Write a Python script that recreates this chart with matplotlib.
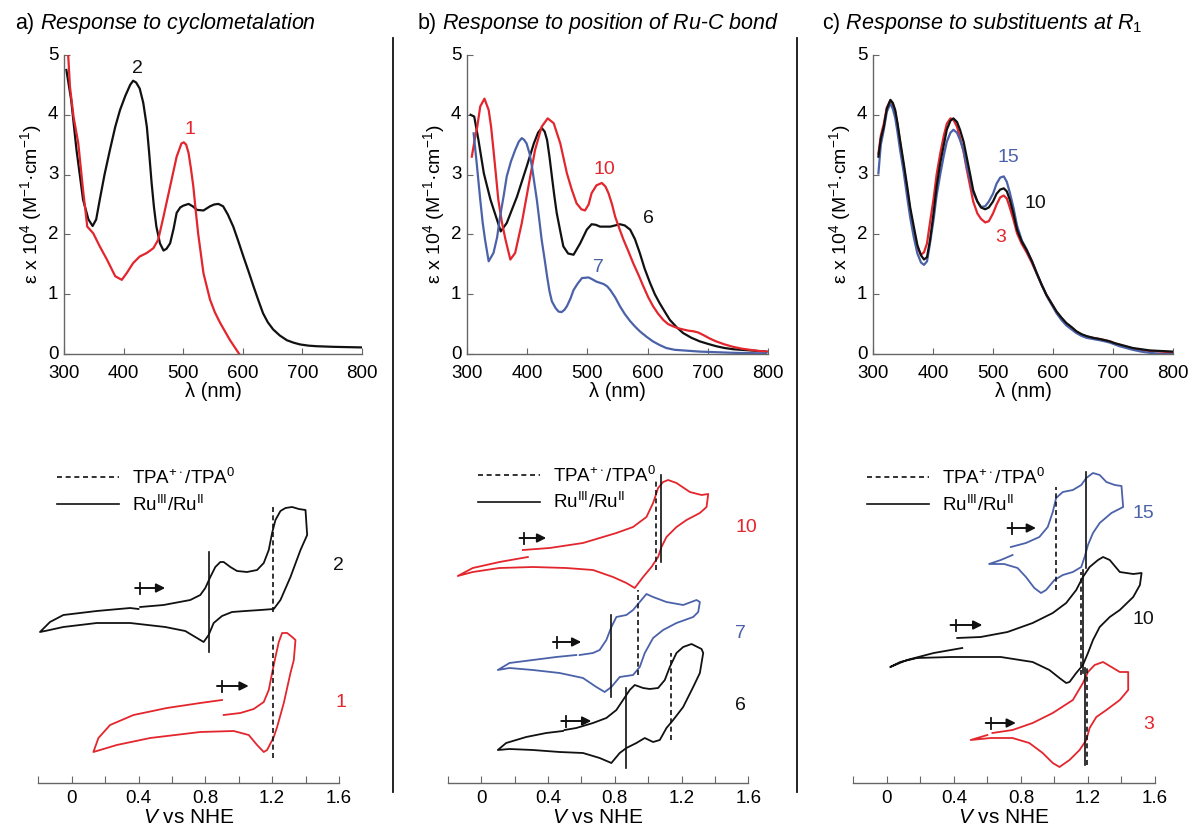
import matplotlib
matplotlib.use('Agg')
import matplotlib.pyplot as plt
from matplotlib.lines import Line2D
import numpy as np

plt.rcParams['font.family'] = ['Liberation Sans', 'DejaVu Sans']
plt.rcParams['mathtext.fontset'] = 'custom'
plt.rcParams['mathtext.rm'] = 'Liberation Sans'
plt.rcParams['mathtext.it'] = 'Liberation Sans:italic'
plt.rcParams['mathtext.bf'] = 'Liberation Sans:bold'

RED = '#e3262d'
BLUE = '#4b62a9'
BLACK = '#111111'
GREY = '#666666'

# ---------------- absorption spectra (eps in 10^4 M-1 cm-1) ----------------
# a) compound 2 (black) and 1 (red)
wl_a2 = [304, 312, 321, 332, 341, 348, 354, 360, 368, 377, 386, 394, 403, 411, 416, 421, 427, 433,
         439, 443, 447, 451, 455, 461, 467, 472, 478, 484, 489, 495, 500, 509, 516, 523, 534, 545,
         552, 559, 567, 575, 584, 592, 601, 610, 618, 626, 634, 642, 651, 662, 674, 685, 696, 710,
         724, 738, 752, 775, 799]
eps_a2 = [4.75, 4.25, 3.41, 2.58, 2.25, 2.14, 2.25, 2.58, 3.0, 3.41, 3.8, 4.08, 4.32, 4.5, 4.57, 4.54,
          4.44, 4.2, 3.8, 3.35, 2.86, 2.45, 2.13, 1.85, 1.73, 1.76, 1.85, 2.1, 2.36, 2.45, 2.48, 2.51,
          2.47, 2.41, 2.4, 2.47, 2.5, 2.51, 2.47, 2.33, 2.13, 1.9, 1.63, 1.37, 1.13, 0.9, 0.68, 0.53,
          0.41, 0.31, 0.23, 0.19, 0.16, 0.14, 0.13, 0.125, 0.12, 0.115, 0.11]
wl_a1 = [307, 310, 316, 324, 332, 339, 349, 360, 372, 386, 397, 405, 416, 427, 439, 450, 458, 467,
         478, 489, 497, 501, 505, 509, 513, 517, 521, 525, 534, 545, 553, 562, 570, 578, 586, 594]
eps_a1 = [5.0, 4.47, 3.97, 3.52, 2.74, 2.13, 2.02, 1.8, 1.58, 1.3, 1.24, 1.35, 1.52, 1.63, 1.69, 1.77,
          1.91, 2.3, 2.8, 3.3, 3.52, 3.54, 3.5, 3.36, 3.1, 2.8, 2.4, 2.02, 1.35, 0.91, 0.7, 0.52,
          0.38, 0.24, 0.12, 0.0]

# b) compound 6 (black), 10 (red), 7 (blue)
wl_b6 = [306, 312, 319, 328, 339, 350, 356, 366, 383, 399, 411, 418, 424, 429, 433, 437, 441, 445,
         449, 455, 460, 468, 477, 488, 499, 507, 514, 521, 538, 546, 554, 562, 571, 579, 587, 595,
         604, 612, 620, 629, 637, 648, 659, 673, 687, 700, 714, 728, 742, 770, 797]
eps_b6 = [4.0, 3.97, 3.58, 3.02, 2.58, 2.24, 2.05, 2.19, 2.63, 3.13, 3.52, 3.7, 3.78, 3.72, 3.58, 3.3,
          2.97, 2.65, 2.36, 2.05, 1.8, 1.68, 1.66, 1.85, 2.08, 2.17, 2.16, 2.13, 2.13, 2.15, 2.17,
          2.15, 2.08, 1.92, 1.69, 1.43, 1.19, 1.0, 0.85, 0.7, 0.57, 0.45, 0.35, 0.27, 0.21, 0.17,
          0.13, 0.1, 0.08, 0.06, 0.04]
wl_b10 = [308, 313, 317, 322, 329, 336, 340, 344, 348, 352, 358, 364, 372, 380, 391, 402, 413, 424,
          434, 444, 455, 466, 474, 482, 490, 496, 502, 507, 515, 524, 530, 535, 541, 546, 553, 560,
          568, 576, 585, 593, 601, 609, 617, 626, 634, 643, 651, 659, 668, 676, 684, 692, 703, 714,
          728, 742, 756, 770, 785, 800]
eps_b10 = [3.3, 3.6, 3.8, 4.14, 4.27, 4.08, 3.8, 3.41, 3.0, 2.58, 2.2, 1.91, 1.58, 1.69, 2.19, 2.8,
           3.41, 3.8, 3.94, 3.86, 3.52, 3.02, 2.75, 2.52, 2.42, 2.4, 2.5, 2.69, 2.82, 2.86, 2.8, 2.69,
           2.5, 2.3, 2.1, 1.91, 1.72, 1.52, 1.32, 1.13, 0.95, 0.8, 0.68, 0.57, 0.5, 0.46, 0.43, 0.41,
           0.39, 0.38, 0.36, 0.32, 0.26, 0.21, 0.16, 0.12, 0.09, 0.07, 0.05, 0.04]
wl_b7 = [311, 316, 322, 326, 330, 336, 344, 350, 355, 361, 366, 373, 380, 386, 391, 395, 399, 404,
         408, 412, 416, 420, 424, 429, 433, 437, 441, 447, 452, 457, 462, 466, 472, 477, 484, 491,
         502, 508, 515, 527, 533, 538, 546, 554, 562, 571, 579, 587, 598, 609, 620, 631, 645, 659,
         687, 742, 797]
eps_b7 = [3.69, 3.2, 2.58, 2.2, 1.91, 1.55, 1.69, 1.95, 2.3, 2.65, 2.97, 3.22, 3.41, 3.55, 3.61, 3.58,
          3.52, 3.35, 3.13, 2.85, 2.58, 2.25, 1.91, 1.58, 1.3, 1.05, 0.88, 0.77, 0.71, 0.7, 0.74, 0.8,
          0.93, 1.07, 1.18, 1.27, 1.28, 1.25, 1.21, 1.17, 1.13, 1.07, 0.95, 0.8, 0.67, 0.55, 0.46,
          0.38, 0.29, 0.21, 0.15, 0.1, 0.07, 0.06, 0.04, 0.02, 0.01]

# c) compound 10 (black), 3 (red), 15 (blue)
wl_c = [309, 313, 318, 323, 329, 333, 337, 341, 345, 351, 357, 362, 368, 374, 380, 385, 390, 395,
        401, 406, 412, 418, 423, 429, 434, 440, 445, 451, 456, 462, 467, 474, 480, 487, 493, 500,
        506, 512, 518, 523, 528, 534, 540, 548, 556, 565, 573, 581, 589, 598, 606, 614, 622, 631,
        639, 648, 656, 667, 678, 687, 695, 703, 711, 722, 733, 747, 761, 780, 800]
eps_c10 = [3.3, 3.6, 3.8, 4.1, 4.25, 4.2, 4.08, 3.85, 3.58, 3.2, 2.8, 2.45, 2.13, 1.82, 1.65, 1.58,
           1.62, 1.9, 2.36, 2.8, 3.19, 3.5, 3.75, 3.9, 3.94, 3.88, 3.75, 3.55, 3.3, 3.0, 2.74, 2.55,
           2.45, 2.42, 2.45, 2.55, 2.68, 2.75, 2.77, 2.72, 2.58, 2.35, 2.08, 1.88, 1.74, 1.55, 1.35,
           1.16, 0.99, 0.84, 0.71, 0.61, 0.52, 0.45, 0.38, 0.33, 0.3, 0.27, 0.25, 0.23, 0.21, 0.18,
           0.16, 0.13, 0.1, 0.08, 0.06, 0.05, 0.04]
eps_c3 = [3.35, 3.65, 3.85, 4.12, 4.24, 4.18, 4.05, 3.82, 3.55, 3.15, 2.75, 2.4, 2.05, 1.78, 1.66, 1.7,
          1.85, 2.2, 2.6, 3.0, 3.35, 3.65, 3.85, 3.94, 3.92, 3.8, 3.62, 3.38, 3.1, 2.8, 2.55, 2.35,
          2.26, 2.2, 2.22, 2.35, 2.5, 2.62, 2.65, 2.6, 2.45, 2.25, 2.02, 1.84, 1.7, 1.52, 1.34, 1.16,
          0.99, 0.84, 0.7, 0.6, 0.51, 0.44, 0.37, 0.32, 0.29, 0.27, 0.25, 0.23, 0.21, 0.18, 0.15,
          0.12, 0.09, 0.07, 0.05, 0.04, 0.03]
eps_c15 = [3.02, 3.5, 3.75, 4.05, 4.19, 4.1, 3.95, 3.7, 3.42, 3.05, 2.62, 2.28, 1.95, 1.68, 1.53, 1.49,
           1.55, 1.85, 2.25, 2.65, 3.0, 3.32, 3.55, 3.7, 3.75, 3.7, 3.58, 3.4, 3.15, 2.92, 2.7, 2.55,
           2.46, 2.47, 2.55, 2.68, 2.85, 2.95, 2.97, 2.88, 2.7, 2.45, 2.15, 1.9, 1.75, 1.55, 1.35,
           1.16, 0.98, 0.82, 0.68, 0.57, 0.48, 0.41, 0.35, 0.3, 0.27, 0.25, 0.23, 0.21, 0.19, 0.16,
           0.13, 0.1, 0.07, 0.04, 0.02, 0.0, 0.0]

# ---------------- cyclic voltammograms (V vs NHE, offset current a.u.) ----------------
v_cv2 = [0.41, 0.55, 0.71, 0.77, 0.8, 0.83, 0.86, 0.89, 0.91, 0.95, 0.99, 1.05, 1.11, 1.15, 1.18, 1.2,
         1.22, 1.25, 1.28, 1.32, 1.36, 1.4, 1.41, 1.37, 1.31, 1.25, 1.21, 1.13, 1.04, 0.96, 0.9, 0.85,
         0.82, 0.79, 0.74, 0.68, 0.56, 0.35, 0.15, -0.05, -0.16, -0.19, -0.13, -0.05, 0.15, 0.35, 0.4]
i_cv2 = [1.76, 1.78, 1.83, 1.88, 1.95, 2.06, 2.16, 2.21, 2.21, 2.16, 2.12, 2.11, 2.13, 2.2, 2.33, 2.5,
         2.63, 2.72, 2.75, 2.76, 2.74, 2.73, 2.48, 2.33, 2.06, 1.83, 1.74, 1.73, 1.72, 1.71, 1.67, 1.6,
         1.48, 1.41, 1.46, 1.52, 1.56, 1.6, 1.6, 1.56, 1.52, 1.51, 1.61, 1.68, 1.72, 1.75, 1.74]
v_cv1 = [0.91, 1.01, 1.09, 1.15, 1.18, 1.2, 1.22, 1.24, 1.26, 1.29, 1.32, 1.34, 1.33, 1.31, 1.27, 1.23,
         1.21, 1.17, 1.15, 1.11, 1.06, 0.97, 0.77, 0.47, 0.27, 0.13, 0.16, 0.23, 0.37, 0.57, 0.77, 0.9]
i_cv1 = [0.68, 0.7, 0.74, 0.81, 0.93, 1.1, 1.26, 1.41, 1.5, 1.5, 1.46, 1.43, 1.23, 1.1, 0.8, 0.56,
         0.46, 0.33, 0.31, 0.38, 0.48, 0.52, 0.51, 0.45, 0.38, 0.31, 0.45, 0.58, 0.68, 0.75, 0.8, 0.83]

v_cv10b = [0.25, 0.41, 0.61, 0.81, 0.91, 0.99, 1.03, 1.06, 1.09, 1.12, 1.17, 1.25, 1.32, 1.36, 1.35,
           1.31, 1.23, 1.17, 1.11, 1.08, 1.06, 1.02, 0.97, 0.92, 0.87, 0.79, 0.67, 0.51, 0.31, 0.11,
           -0.05, -0.14, -0.05, 0.11, 0.28]
i_cv10b = [2.33, 2.35, 2.4, 2.5, 2.56, 2.66, 2.8, 2.95, 3.01, 3.03, 3.0, 2.91, 2.88, 2.89, 2.76, 2.7,
           2.63, 2.56, 2.46, 2.36, 2.26, 2.16, 2.06, 1.95, 2.0, 2.06, 2.13, 2.15, 2.16, 2.15, 2.11,
           2.07, 2.15, 2.21, 2.26]
v_cv7 = [0.59, 0.67, 0.71, 0.75, 0.78, 0.81, 0.87, 0.91, 0.95, 0.99, 1.03, 1.11, 1.21, 1.29, 1.31, 1.3,
         1.27, 1.17, 1.09, 1.03, 0.98, 0.95, 0.91, 0.83, 0.78, 0.74, 0.69, 0.61, 0.47, 0.31, 0.17, 0.1,
         0.17, 0.31, 0.45, 0.57]
i_cv7 = [1.28, 1.3, 1.33, 1.43, 1.56, 1.66, 1.68, 1.73, 1.81, 1.89, 1.86, 1.81, 1.78, 1.83, 1.81, 1.71,
         1.66, 1.6, 1.53, 1.45, 1.3, 1.16, 1.08, 1.06, 0.96, 0.91, 0.96, 1.05, 1.1, 1.13, 1.15, 1.13,
         1.2, 1.23, 1.26, 1.28]
v_cv6 = [0.5, 0.57, 0.67, 0.75, 0.81, 0.85, 0.89, 0.92, 0.97, 1.01, 1.06, 1.1, 1.13, 1.17, 1.21, 1.26,
         1.32, 1.33, 1.31, 1.27, 1.21, 1.15, 1.11, 1.07, 1.03, 0.98, 0.93, 0.87, 0.83, 0.78, 0.71, 0.61,
         0.47, 0.31, 0.17, 0.1, 0.15, 0.27, 0.39, 0.49]
i_cv6 = [0.53, 0.55, 0.6, 0.65, 0.73, 0.83, 0.93, 0.98, 0.95, 0.94, 0.95, 1.03, 1.16, 1.3, 1.36, 1.39,
         1.34, 1.3, 1.1, 0.96, 0.76, 0.63, 0.55, 0.43, 0.41, 0.45, 0.4, 0.35, 0.3, 0.2, 0.25, 0.3,
         0.31, 0.33, 0.34, 0.33, 0.4, 0.46, 0.5, 0.52]

v_cv15 = [0.74, 0.83, 0.91, 0.96, 0.99, 1.01, 1.05, 1.11, 1.16, 1.19, 1.23, 1.27, 1.31, 1.36, 1.4, 1.41,
          1.34, 1.27, 1.23, 1.2, 1.18, 1.16, 1.11, 1.05, 1.0, 0.95, 0.92, 0.88, 0.83, 0.78, 0.7, 0.61,
          0.68, 0.75]
i_cv15 = [2.36, 2.4, 2.46, 2.56, 2.71, 2.85, 2.91, 2.93, 2.98, 3.05, 3.1, 3.08, 3.01, 2.98, 2.97, 2.76,
          2.7, 2.6, 2.5, 2.38, 2.26, 2.16, 2.11, 2.08, 2.03, 1.93, 1.9, 1.95, 2.06, 2.15, 2.19, 2.19,
          2.23, 2.28]
v_cv10c = [0.42, 0.56, 0.72, 0.87, 0.99, 1.07, 1.13, 1.17, 1.21, 1.26, 1.29, 1.33, 1.39, 1.47, 1.52,
           1.51, 1.47, 1.39, 1.33, 1.27, 1.23, 1.2, 1.17, 1.13, 1.09, 1.07, 1.03, 0.97, 0.87, 0.68,
           0.38, 0.18, 0.08, 0.02, 0.12, 0.28, 0.45]
i_cv10c = [1.45, 1.46, 1.51, 1.6, 1.7, 1.8, 1.93, 2.06, 2.16, 2.23, 2.26, 2.23, 2.11, 2.09, 2.1, 1.98,
           1.86, 1.73, 1.66, 1.56, 1.43, 1.3, 1.18, 1.1, 1.01, 1.0, 1.05, 1.13, 1.21, 1.26, 1.26,
           1.25, 1.21, 1.16, 1.23, 1.3, 1.35]
v_cv3 = [0.63, 0.75, 0.87, 0.99, 1.11, 1.17, 1.2, 1.24, 1.29, 1.34, 1.39, 1.44, 1.44, 1.39, 1.31, 1.25,
         1.21, 1.19, 1.15, 1.09, 1.03, 0.99, 0.93, 0.85, 0.75, 0.62, 0.5, 0.6]
i_cv3 = [0.5, 0.53, 0.6, 0.7, 0.83, 1.0, 1.11, 1.18, 1.21, 1.16, 1.11, 1.11, 0.93, 0.83, 0.73, 0.66,
         0.55, 0.43, 0.33, 0.23, 0.16, 0.2, 0.3, 0.4, 0.45, 0.45, 0.43, 0.48]

# redox potentials: (V, current from, current to)
tpa_a = [(1.205, 1.71, 2.76), (1.205, 0.25, 1.5)]
ru_a = [(0.822, 1.31, 2.31)]
tpa_b = [(1.05, 2.13, 3.03), (0.94, 1.08, 1.93), (1.135, 0.43, 1.3)]
ru_b = [(1.08, 2.21, 3.08), (0.776, 0.86, 1.68), (0.866, 0.15, 0.95)]
tpa_c = [(1.01, 1.93, 2.96), (1.16, 1.08, 2.11), (1.196, 0.18, 1.15)]
ru_c = [(1.19, 2.15, 3.11), (1.17, 1.1, 2.13), (1.185, 0.18, 1.15)]

W, H = 1197, 830
fig = plt.figure(figsize=(W / 100, H / 100), dpi=100)

TICK_FS = 13.5
LABEL_FS = 14.5
NUM_FS = 14


def rect(l, t, r, b):
    return [l / W, 1 - b / H, (r - l) / W, (b - t) / H]


def style_top(ax):
    ax.set_xlim(300, 800)
    ax.set_ylim(0, 5)
    for s in ['top', 'right']:
        ax.spines[s].set_visible(False)
    for s in ['left', 'bottom']:
        ax.spines[s].set_color(GREY)
        ax.spines[s].set_linewidth(1.0)
    ax.set_xticks(range(300, 801, 100))
    ax.set_yticks(range(0, 6))
    ax.tick_params(direction='in', length=4, width=0.8, color=GREY, labelsize=TICK_FS)
    ax.tick_params(axis='x', pad=8)
    ax.tick_params(axis='y', pad=4)
    for lab in ax.get_yticklabels():
        lab.set_verticalalignment('center')
    ax.set_xlabel('λ (nm)', fontsize=LABEL_FS, labelpad=0)
    ax.set_ylabel('ε x 10$^4$ (M$^{-1}$·cm$^{-1}$)', fontsize=14, labelpad=3)
    ax.patch.set_alpha(0)


def style_bottom(ax, legend_anchor):
    ax.set_xlim(-0.2, 1.6)
    ax.set_ylim(0, 3.3)
    for s in ['top', 'right', 'left']:
        ax.spines[s].set_visible(False)
    ax.spines['bottom'].set_color(GREY)
    ax.spines['bottom'].set_linewidth(1.0)
    ax.set_yticks([])
    ax.set_xticks(np.round(np.arange(-0.2, 1.61, 0.2), 1))
    ax.set_xticklabels(['', '0', '', '0.4', '', '0.8', '', '1.2', '', '1.6'])
    ax.tick_params(direction='in', length=5, width=0.8, color=GREY, labelsize=TICK_FS, pad=5)
    ax.set_xlabel('$V$ vs NHE', fontsize=15, labelpad=1)
    ax.patch.set_alpha(0)
    handles = [Line2D([], [], color=BLACK, lw=1.2, ls=(0, (3, 2.2))),
               Line2D([], [], color=BLACK, lw=1.2)]
    ax.legend(handles, ['TPA$^{+\\cdot}$/TPA$^0$', 'Ru$^{\\rm III}$/Ru$^{\\rm II}$'],
              loc='upper left', bbox_to_anchor=legend_anchor, frameon=False, fontsize=13.5,
              handlelength=3.3, handletextpad=0.7, labelspacing=0.35, borderpad=0,
              borderaxespad=0)


def potentials(ax, tpa, ru):
    for v, lo, hi in tpa:
        ax.plot([v, v], [lo, hi], color=BLACK, lw=1.2, ls=(0, (3, 2)))
    for v, lo, hi in ru:
        ax.plot([v, v], [lo, hi], color=BLACK, lw=1.2)


def scan_arrow(ax, x0, x1, y):
    ax.annotate('', xy=(x1, y), xytext=(x0, y),
                arrowprops=dict(arrowstyle='-|>', color=BLACK, lw=1.4, mutation_scale=13,
                                shrinkA=0, shrinkB=0))
    xb = x0 + 0.16 * (x1 - x0)
    ax.plot([xb, xb], [y - 0.055, y + 0.055], color=BLACK, lw=1.3)


# ---------------- top row ----------------
ax_a = fig.add_axes(rect(64, 55, 362, 354))
ax_a.plot(wl_a2, eps_a2, color=BLACK, lw=1.6)
ax_a.plot(wl_a1, eps_a1, color=RED, lw=1.6)
ax_a.text(424, 4.78, '2', color=BLACK, fontsize=NUM_FS, ha='center', va='center')
ax_a.text(511, 3.75, '1', color=RED, fontsize=NUM_FS, ha='center', va='center')
style_top(ax_a)

ax_b = fig.add_axes(rect(467, 55, 768, 354))
ax_b.plot(wl_b6, eps_b6, color=BLACK, lw=1.6)
ax_b.plot(wl_b10, eps_b10, color=RED, lw=1.6)
ax_b.plot(wl_b7, eps_b7, color=BLUE, lw=1.6)
ax_b.text(529, 3.08, '10', color=RED, fontsize=NUM_FS, ha='center', va='center')
ax_b.text(601, 2.27, '6', color=BLACK, fontsize=NUM_FS, ha='center', va='center')
ax_b.text(519, 1.45, '7', color=BLUE, fontsize=NUM_FS, ha='center', va='center')
style_top(ax_b)

ax_c = fig.add_axes(rect(873, 55, 1173, 354))
ax_c.plot(wl_c, eps_c3, color=RED, lw=1.6)
ax_c.plot(wl_c, eps_c15, color=BLUE, lw=1.6)
ax_c.plot(wl_c, eps_c10, color=BLACK, lw=1.6)
ax_c.text(525, 3.28, '15', color=BLUE, fontsize=NUM_FS, ha='center', va='center')
ax_c.text(570, 2.51, '10', color=BLACK, fontsize=NUM_FS, ha='center', va='center')
ax_c.text(512, 1.94, '3', color=RED, fontsize=NUM_FS, ha='center', va='center')
style_top(ax_c)

# ---------------- bottom row ----------------
cv_a = fig.add_axes(rect(38.3, 453, 338.9, 783))
cv_a.plot(v_cv2, i_cv2, color=BLACK, lw=1.3)
cv_a.plot(v_cv1, i_cv1, color=RED, lw=1.3)
potentials(cv_a, tpa_a, ru_a)
scan_arrow(cv_a, 0.38, 0.56, 1.95)
scan_arrow(cv_a, 0.87, 1.06, 0.97)
cv_a.text(1.6, 2.18, '2', color=BLACK, fontsize=NUM_FS, ha='center', va='center')
cv_a.text(1.61, 0.81, '1', color=RED, fontsize=NUM_FS, ha='center', va='center')
style_bottom(cv_a, (0.062, 0.955))

cv_b = fig.add_axes(rect(447.7, 453, 748.3, 783))
cv_b.plot(v_cv10b, i_cv10b, color=RED, lw=1.3)
cv_b.plot(v_cv7, i_cv7, color=BLUE, lw=1.3)
cv_b.plot(v_cv6, i_cv6, color=BLACK, lw=1.3)
potentials(cv_b, tpa_b, ru_b)
scan_arrow(cv_b, 0.23, 0.39, 2.45)
scan_arrow(cv_b, 0.43, 0.60, 1.41)
scan_arrow(cv_b, 0.48, 0.66, 0.62)
cv_b.text(1.59, 2.56, '10', color=RED, fontsize=NUM_FS, ha='center', va='center')
cv_b.text(1.55, 1.5, '7', color=BLUE, fontsize=NUM_FS, ha='center', va='center')
cv_b.text(1.55, 0.78, '6', color=BLACK, fontsize=NUM_FS, ha='center', va='center')
style_bottom(cv_b, (0.10, 0.962))

cv_c = fig.add_axes(rect(853.3, 453, 1155, 783))
cv_c.plot(v_cv15, i_cv15, color=BLUE, lw=1.3)
cv_c.plot(v_cv10c, i_cv10c, color=BLACK, lw=1.3)
cv_c.plot(v_cv3, i_cv3, color=RED, lw=1.3)
potentials(cv_c, tpa_c, ru_c)
scan_arrow(cv_c, 0.72, 0.89, 2.55)
scan_arrow(cv_c, 0.38, 0.57, 1.58)
scan_arrow(cv_c, 0.59, 0.77, 0.6)
cv_c.text(1.53, 2.7, '15', color=BLUE, fontsize=NUM_FS, ha='center', va='center')
cv_c.text(1.53, 1.64, '10', color=BLACK, fontsize=NUM_FS, ha='center', va='center')
cv_c.text(1.56, 0.59, '3', color=RED, fontsize=NUM_FS, ha='center', va='center')
style_bottom(cv_c, (0.045, 0.955))

# ---------------- titles and separators ----------------
fig.text(15 / W, 1 - 23 / H, 'a) $\\it{Response\\ to\\ cyclometalation}$', fontsize=15.5,
         ha='left', va='center')
fig.text(417 / W, 1 - 23 / H, 'b) $\\it{Response\\ to\\ position\\ of\\ Ru}$-$\\it{C\\ bond}$',
         fontsize=15.5, ha='left', va='center')
fig.text(822 / W, 1 - 23 / H, 'c) $\\it{Response\\ to\\ substituents\\ at\\ R_1}$', fontsize=15.5,
         ha='left', va='center')
for x in [392.5, 797]:
    fig.add_artist(Line2D([x / W, x / W], [1 - 38 / H, 1 - 792 / H], color=BLACK, lw=1.3))

fig.savefig('out.png', dpi=100)
